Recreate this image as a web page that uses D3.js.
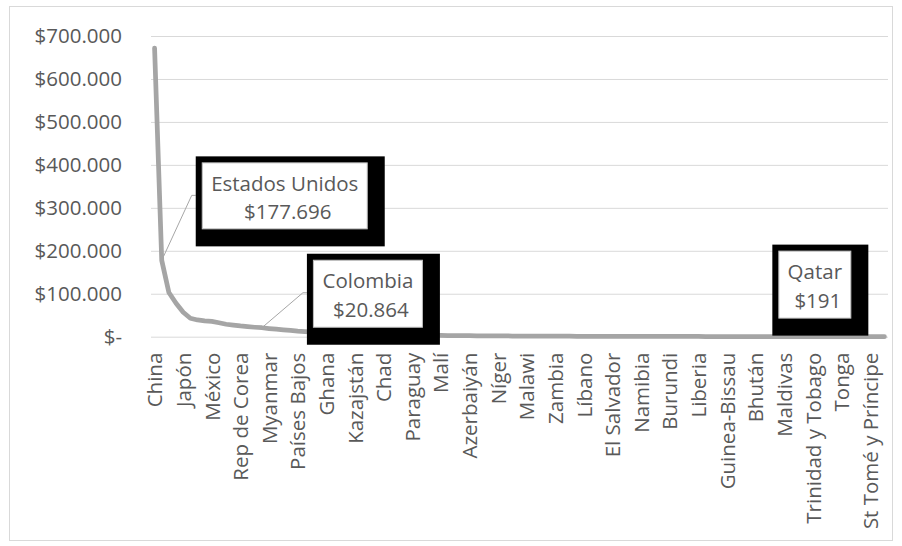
<!DOCTYPE html>
<html>
<head>
<meta charset="utf-8">
<script src="https://cdn.jsdelivr.net/npm/d3@7"></script>
<style>
  body { margin: 0; background: #fff; }
  svg text { font-family: "Open Sans", sans-serif; fill: #595959; }
</style>
</head>
<body>
<svg id="chart" width="902" height="546"></svg>
<script>
// countries ranked, labels shown every 4th
var countries = [
  "China", "Estados Unidos", "India", "Indonesia", "Japón", "Brasil", "Nigeria", "Rusia",
  "México", "Pakistán", "Bangladesh", "Vietnam", "Rep de Corea", "Filipinas", "Tailandia", "Colombia",
  "Myanmar", "Egipto", "Perú", "Argentina", "Países Bajos", "Sudáfrica", "Etiopía", "Kenia",
  "Ghana", "Ecuador", "Uzbekistán", "Marruecos", "Kazajstán", "Camerún", "Tanzania", "Guatemala",
  "Chad", "Sri Lanka", "Bolivia", "Costa de Marfil", "Paraguay", "Uganda", "Senegal", "Honduras",
  "Malí", "Túnez", "Nicaragua", "Burkina Faso", "Azerbaiyán", "Mozambique", "Camboya", "Benín",
  "Níger", "Madagascar", "Ruanda", "Haití", "Malawi", "Togo", "Jordania", "Panamá",
  "Zambia", "Kirguistán", "Tayikistán", "Uruguay", "Líbano", "Sierra Leona", "Laos", "Georgia",
  "El Salvador", "Armenia", "Mauritania", "Mongolia", "Namibia", "Botsuana", "Jamaica", "Albania",
  "Burundi", "Eritrea", "Lesoto", "Gambia", "Liberia", "Fiyi", "Guyana", "Suazilandia",
  "Guinea-Bissau", "Surinam", "Timor-Leste", "Belice", "Bhután", "Cabo Verde", "Comoras", "Yibuti",
  "Maldivas", "Islas Salomón", "Vanuatu", "Samoa", "Trinidad y Tobago", "Barbados", "Kiribati", "Qatar",
  "Tonga", "Micronesia", "Dominica", "Granada", "St Tomé y Príncipe", "Seychelles", "Islas Marshall"
];

var values = [
  672000, 177696, 103000, 78000, 57000, 43000, 39000, 37000,
  35500, 32500, 29000, 27000, 25000, 23500, 22000, 20864,
  19000, 17500, 16000, 14500, 13000, 12000, 11000, 10000,
  9200, 8500, 7800, 7200, 6600, 6100, 5600, 5200,
  4800, 4500, 4200, 3900, 3600, 3400, 3200, 3000,
  2800, 2650, 2500, 2380, 2250, 2120, 2000, 1900,
  1800, 1700, 1620, 1540, 1460, 1390, 1320, 1250,
  1190, 1130, 1080, 1030, 980, 930, 890, 850,
  810, 770, 735, 700, 670, 640, 610, 585,
  560, 535, 510, 490, 470, 450, 430, 410,
  395, 380, 365, 350, 335, 320, 305, 290,
  275, 262, 250, 238, 226, 214, 202, 191,
  180, 165, 150, 135, 120, 100, 80
];

var yTicks = [0, 100000, 200000, 300000, 400000, 500000, 600000, 700000];

var svg = d3.select("#chart");
var fontSize = "20.5px";

// outer chart frame
svg.append("rect")
  .attr("x", 9.5).attr("y", 6.5)
  .attr("width", 883).attr("height", 534)
  .attr("fill", "none")
  .attr("stroke", "#d9d9d9");

var x = d3.scalePoint()
  .domain(countries)
  .range([151, 888])
  .padding(0.5);

var y = d3.scaleLinear()
  .domain([0, 700000])
  .range([336.7, 36]);

var money = function (v) {
  if (v === 0) return "$-";
  return "$" + d3.format(",")(v).replace(/,/g, ".");
};

// gridlines + y labels
var yAxis = d3.axisLeft(y)
  .tickValues(yTicks)
  .tickSize(-(888 - 151))
  .tickPadding(29)
  .tickFormat(money);

var gy = svg.append("g")
  .attr("transform", "translate(151,0)")
  .call(yAxis);
gy.select(".domain").remove();
gy.selectAll("line").attr("stroke", "#d9d9d9");
gy.selectAll("text")
  .style("font-size", fontSize)
  .style("fill", "#595959");

// x labels, every 4th category
var xAxis = d3.axisBottom(x)
  .tickValues(countries.filter(function (d, i) { return i % 4 === 0; }))
  .tickSize(0);

var gx = svg.append("g")
  .attr("transform", "translate(0," + y(0) + ")")
  .call(xAxis);
gx.select(".domain").remove();
gx.selectAll("text")
  .attr("transform", "rotate(-90)")
  .attr("text-anchor", "end")
  .attr("x", -16)
  .attr("y", 0)
  .attr("dy", "0.35em")
  .style("font-size", fontSize)
  .style("fill", "#595959");

// the line
var line = d3.line()
  .x(function (d, i) { return x(countries[i]); })
  .y(function (d) { return y(d); });

svg.append("path")
  .datum(values)
  .attr("d", line)
  .attr("fill", "none")
  .attr("stroke", "#a5a5a5")
  .attr("stroke-width", 4.75)
  .attr("stroke-linejoin", "round")
  .attr("stroke-linecap", "round");

// callout boxes: offset of white box from the point, and its size
var boxes = [
  { name: "Estados Unidos", dx: 40, dy: -98, w: 166, h: 67, leader: true },
  { name: "Colombia", dx: 51, dy: -68, w: 110, h: 68, leader: true },
  { name: "Qatar", dx: -56, dy: -86, w: 73, h: 68, leader: false }
];

boxes.forEach(function (b) {
  var i = countries.indexOf(b.name);
  var px = x(b.name), py = y(values[i]);
  var bx = px + b.dx, by = py + b.dy;

  if (b.leader) {
    svg.append("polyline")
      .attr("points", [[px, py], [bx - 10, by + 33], [bx - 6, by + 33]].join(" "))
      .attr("fill", "none")
      .attr("stroke", "#a6a6a6")
      .attr("stroke-width", 1);
  }

  svg.append("rect")
    .attr("x", bx - 6).attr("y", by - 6)
    .attr("width", b.w + 23).attr("height", b.h + 23)
    .attr("fill", "#000");

  svg.append("rect")
    .attr("x", bx + 0.5).attr("y", by + 0.5)
    .attr("width", b.w - 1).attr("height", b.h - 1)
    .attr("fill", "#fff")
    .attr("stroke", "#bfbfbf");

  svg.append("text")
    .attr("x", bx + b.w / 2).attr("y", by + 28.5)
    .attr("text-anchor", "middle")
    .style("font-size", fontSize)
    .text(b.name);

  svg.append("text")
    .attr("x", bx + b.w / 2 + 3).attr("y", by + 57)
    .attr("text-anchor", "middle")
    .style("font-size", fontSize)
    .text(money(values[i]));
});
</script>
</body>
</html>
